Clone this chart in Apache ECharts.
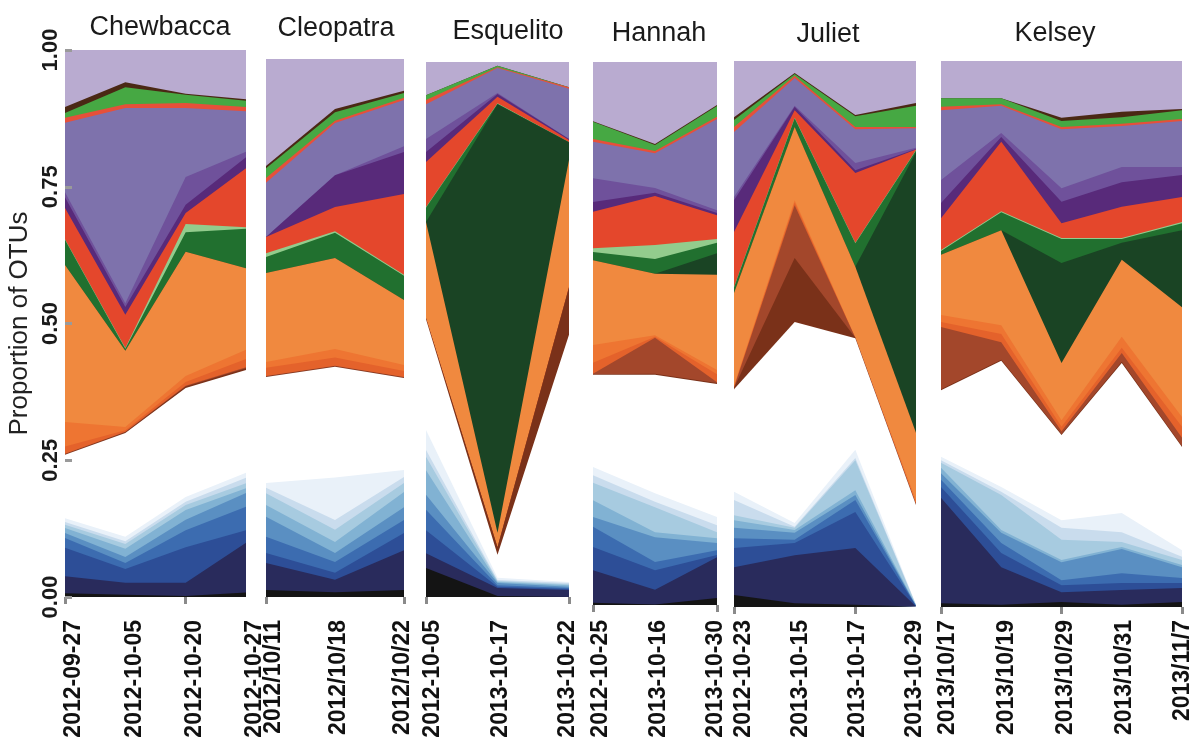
<!DOCTYPE html>
<html>
<head>
<meta charset="utf-8">
<script src="https://cdn.jsdelivr.net/npm/echarts@6/dist/echarts.min.js"></script>
<style>
  html, body { margin: 0; padding: 0; background: #fff; }
  #chart { width: 1197px; height: 751px; }
</style>
</head>
<body>
<div id="chart"></div>
<script>
// Sampling dates for each animal
const chewbaccaDates = ['2012-09-27', '2012-10-05', '2012-10-20', '2012-10-27'];
const cleopatraDates = ['2012/10/11', '2012/10/18', '2012/10/22'];
const esquelitoDates = ['2012-10-05', '2013-10-17', '2013-10-22'];
const hannahDates = ['2012-10-25', '2013-10-16', '2013-10-30'];
const julietDates = ['2012-10-23', '2013-10-15', '2013-10-17', '2013-10-29'];
const kelseyDates = ['2013/10/17', '2013/10/19', '2013/10/29', '2013/10/31', '2013/11/7'];

const yTicks = [0, 0.25, 0.5, 0.75, 1];

// OTU groups, bottom of the stack first
const layerNames = [
  'black', 'navy', 'blue', 'midBlue', 'steel', 'lightSteel', 'lightBlue', 'paleBlue', 'palestBlue',
  'unassigned', 'brownDark', 'brown', 'orangeDeep', 'orangeMid', 'orange',
  'greenDarkest', 'greenDark', 'greenLight', 'red', 'purpleDark', 'purple', 'lavender',
  'redLine', 'green', 'brownLine', 'lavenderTop'
];

// Cumulative proportion at the top edge of each group (same order as layerNames)
const chewbaccaTops = [
  [0.007, 0.004, 0.002, 0.008],
  [0.038, 0.026, 0.026, 0.099],
  [0.090, 0.051, 0.091, 0.122],
  [0.108, 0.062, 0.122, 0.165],
  [0.117, 0.073, 0.141, 0.190],
  [0.126, 0.088, 0.159, 0.199],
  [0.132, 0.097, 0.168, 0.208],
  [0.137, 0.102, 0.174, 0.218],
  [0.144, 0.110, 0.183, 0.227],
  [0.260, 0.300, 0.382, 0.415],
  [0.261, 0.301, 0.385, 0.418],
  [0.262, 0.302, 0.386, 0.420],
  [0.275, 0.305, 0.393, 0.435],
  [0.320, 0.311, 0.404, 0.452],
  [0.607, 0.450, 0.631, 0.601],
  [0.607, 0.450, 0.631, 0.601],
  [0.653, 0.454, 0.667, 0.673],
  [0.654, 0.455, 0.682, 0.676],
  [0.711, 0.516, 0.702, 0.784],
  [0.731, 0.530, 0.717, 0.804],
  [0.740, 0.537, 0.768, 0.814],
  [0.867, 0.894, 0.894, 0.888],
  [0.876, 0.901, 0.903, 0.896],
  [0.885, 0.932, 0.918, 0.907],
  [0.896, 0.941, 0.920, 0.910],
  [1, 1, 1, 1]
];

const cleopatraTops = [
  [0.013, 0.009, 0.013],
  [0.063, 0.032, 0.087],
  [0.082, 0.045, 0.119],
  [0.112, 0.065, 0.143],
  [0.149, 0.082, 0.167],
  [0.171, 0.102, 0.195],
  [0.193, 0.125, 0.212],
  [0.203, 0.143, 0.223],
  [0.212, 0.222, 0.236],
  [0.409, 0.428, 0.407],
  [0.410, 0.429, 0.408],
  [0.411, 0.430, 0.409],
  [0.426, 0.445, 0.420],
  [0.437, 0.461, 0.431],
  [0.602, 0.630, 0.552],
  [0.602, 0.630, 0.552],
  [0.632, 0.677, 0.597],
  [0.639, 0.680, 0.599],
  [0.669, 0.725, 0.749],
  [0.669, 0.784, 0.827],
  [0.669, 0.784, 0.838],
  [0.770, 0.881, 0.924],
  [0.779, 0.885, 0.928],
  [0.797, 0.901, 0.937],
  [0.801, 0.907, 0.941],
  [1, 1, 1]
];

const esquelitoTops = [
  [0.054, 0.002, 0.001],
  [0.082, 0.017, 0.013],
  [0.125, 0.019, 0.015],
  [0.163, 0.022, 0.017],
  [0.191, 0.026, 0.019],
  [0.237, 0.028, 0.022],
  [0.262, 0.030, 0.024],
  [0.275, 0.032, 0.026],
  [0.312, 0.036, 0.028],
  [0.519, 0.079, 0.490],
  [0.521, 0.093, 0.579],
  [0.521, 0.093, 0.579],
  [0.521, 0.093, 0.579],
  [0.521, 0.093, 0.579],
  [0.701, 0.120, 0.817],
  [0.701, 0.921, 0.850],
  [0.728, 0.922, 0.850],
  [0.729, 0.923, 0.850],
  [0.813, 0.935, 0.854],
  [0.832, 0.940, 0.856],
  [0.856, 0.942, 0.856],
  [0.921, 0.989, 0.950],
  [0.929, 0.990, 0.953],
  [0.938, 0.993, 0.953],
  [0.938, 0.993, 0.953],
  [1, 1, 1]
];

const hannahTops = [
  [0.004, 0.001, 0.013],
  [0.064, 0.028, 0.088],
  [0.107, 0.064, 0.092],
  [0.144, 0.079, 0.101],
  [0.162, 0.125, 0.114],
  [0.193, 0.134, 0.123],
  [0.225, 0.180, 0.134],
  [0.239, 0.190, 0.147],
  [0.254, 0.206, 0.162],
  [0.424, 0.424, 0.407],
  [0.425, 0.426, 0.409],
  [0.426, 0.492, 0.410],
  [0.446, 0.494, 0.425],
  [0.479, 0.497, 0.433],
  [0.635, 0.610, 0.608],
  [0.635, 0.610, 0.648],
  [0.650, 0.637, 0.667],
  [0.657, 0.663, 0.674],
  [0.724, 0.753, 0.718],
  [0.742, 0.759, 0.722],
  [0.786, 0.768, 0.727],
  [0.853, 0.832, 0.895],
  [0.858, 0.836, 0.899],
  [0.890, 0.847, 0.919],
  [0.891, 0.849, 0.921],
  [1, 1, 1]
];

const julietTops = [
  [0.022, 0.007, 0.004, 0.001],
  [0.073, 0.095, 0.108, 0.001],
  [0.108, 0.117, 0.174, 0.002],
  [0.126, 0.123, 0.196, 0.002],
  [0.145, 0.136, 0.205, 0.002],
  [0.159, 0.141, 0.214, 0.003],
  [0.168, 0.145, 0.269, 0.003],
  [0.196, 0.147, 0.273, 0.004],
  [0.211, 0.154, 0.288, 0.004],
  [0.399, 0.522, 0.492, 0.187],
  [0.401, 0.639, 0.493, 0.188],
  [0.402, 0.736, 0.493, 0.188],
  [0.403, 0.741, 0.493, 0.190],
  [0.405, 0.745, 0.493, 0.196],
  [0.575, 0.879, 0.623, 0.319],
  [0.575, 0.879, 0.623, 0.833],
  [0.585, 0.895, 0.666, 0.836],
  [0.586, 0.896, 0.667, 0.837],
  [0.687, 0.910, 0.795, 0.838],
  [0.745, 0.916, 0.800, 0.839],
  [0.751, 0.918, 0.813, 0.841],
  [0.870, 0.969, 0.875, 0.877],
  [0.879, 0.973, 0.879, 0.879],
  [0.892, 0.976, 0.899, 0.918],
  [0.897, 0.978, 0.901, 0.923],
  [1, 1, 1, 1]
];

const kelseyTops = [
  [0.007, 0.004, 0.009, 0.004, 0.009],
  [0.200, 0.073, 0.027, 0.031, 0.035],
  [0.220, 0.099, 0.040, 0.044, 0.044],
  [0.233, 0.117, 0.049, 0.062, 0.053],
  [0.245, 0.136, 0.082, 0.106, 0.073],
  [0.255, 0.141, 0.086, 0.110, 0.077],
  [0.264, 0.205, 0.123, 0.119, 0.086],
  [0.269, 0.211, 0.145, 0.137, 0.092],
  [0.275, 0.220, 0.159, 0.172, 0.104],
  [0.397, 0.451, 0.315, 0.447, 0.293],
  [0.399, 0.453, 0.317, 0.449, 0.295],
  [0.513, 0.485, 0.322, 0.465, 0.310],
  [0.522, 0.500, 0.330, 0.475, 0.330],
  [0.535, 0.516, 0.342, 0.495, 0.348],
  [0.645, 0.690, 0.447, 0.636, 0.549],
  [0.645, 0.690, 0.630, 0.667, 0.690],
  [0.652, 0.723, 0.674, 0.674, 0.703],
  [0.654, 0.725, 0.676, 0.676, 0.705],
  [0.712, 0.852, 0.703, 0.733, 0.751],
  [0.740, 0.861, 0.742, 0.778, 0.791],
  [0.782, 0.868, 0.767, 0.806, 0.806],
  [0.910, 0.918, 0.875, 0.881, 0.890],
  [0.916, 0.921, 0.879, 0.885, 0.894],
  [0.932, 0.932, 0.890, 0.897, 0.910],
  [0.932, 0.932, 0.896, 0.907, 0.912],
  [1, 1, 1, 1, 1]
];

// Fill colour per group (same order as layerNames)
const layerColors = [
  '#141414', '#292b5c', '#2d4e97', '#3c6cb0', '#5a8fc2', '#81b2d3', '#a7cbe0', '#c9dced', '#e9f1f9',
  '#ffffff', '#7a3119', '#a3472b', '#e4622b', '#ee7532', '#f0893f',
  '#1a4424', '#21702f', '#93cc8d', '#e4472c', '#582a7a', '#6f519b', '#7e72ac',
  '#e6503a', '#46a843', '#4a2814', '#b9abd0'
];

const FONT = 'Liberation Sans, Arial, sans-serif';

// Panel layout: plot box [left, top, width, height], title centre, tick offset,
// and the left/right inset of the date-label row relative to the plot box
const panels = [
  { name: 'Chewbacca', dates: chewbaccaDates, tops: chewbaccaTops, box: [65, 50, 181, 547], titleX: 155, titleY: 9, axisOffset: 14, labelInset: [9, -9] },
  { name: 'Cleopatra', dates: cleopatraDates, tops: cleopatraTops, box: [266, 59, 138, 538], titleX: 331, titleY: 10, axisOffset: 9, labelInset: [8, 1] },
  { name: 'Esquelito', dates: esquelitoDates, tops: esquelitoTops, box: [426, 62, 143, 535], titleX: 503, titleY: 13, axisOffset: 5, labelInset: [7, 1] },
  { name: 'Hannah', dates: hannahDates, tops: hannahTops, box: [593, 62, 124, 543], titleX: 654, titleY: 15, axisOffset: 5, labelInset: [8, 1] },
  { name: 'Juliet', dates: julietDates, tops: julietTops, box: [734, 61, 182, 546], titleX: 823, titleY: 16, axisOffset: 3, labelInset: [10, 1] },
  { name: 'Kelsey', dates: kelseyDates, tops: kelseyTops, box: [941, 61, 241, 546], titleX: 1050, titleY: 15, axisOffset: 3, labelInset: [7, -1] }
];

const LABEL_END_Y = 620;

const option = {
  animation: false,
  backgroundColor: '#ffffff',
  title: [],
  grid: [],
  xAxis: [],
  yAxis: [],
  series: []
};

const nPanels = panels.length;

panels.forEach((p, i) => {
  const [left, top, width, height] = p.box;

  option.title.push({
    text: p.name,
    left: p.titleX,
    top: p.titleY,
    textAlign: 'center',
    textStyle: { fontFamily: FONT, fontSize: 27, fontWeight: 'normal', color: '#1a1a1a' }
  });

  option.grid.push({ left: left, top: top, width: width, height: height, containLabel: false });

  // Plot axis: carries the tick marks at each sampling date
  option.xAxis.push({
    type: 'category',
    gridIndex: i,
    data: p.dates,
    boundaryGap: false,
    offset: p.axisOffset,
    axisLine: { show: false },
    axisTick: { show: true, length: 7, lineStyle: { color: '#8a8a8a', width: 3 } },
    axisLabel: { show: false },
    splitLine: { show: false }
  });

  const isFirst = i === 0;
  option.yAxis.push({
    type: 'value',
    gridIndex: i,
    min: yTicks[0],
    max: yTicks[yTicks.length - 1],
    interval: 0.25,
    show: isFirst,
    z: 10,
    name: isFirst ? 'Proportion of OTUs' : '',
    nameLocation: 'middle',
    nameGap: 32,
    nameTextStyle: { fontFamily: FONT, fontSize: 26, color: '#222' },
    axisLine: { show: false },
    axisTick: { show: true, inside: true, length: 7, lineStyle: { color: '#9a9a9a', width: 3 } },
    axisLabel: {
      rotate: 90,
      margin: 3,
      fontFamily: FONT,
      fontSize: 22,
      fontWeight: 'bold',
      color: '#1a1a1a',
      formatter: v => v.toFixed(2)
    },
    splitLine: { show: false }
  });

  // Paint from the outermost group inwards so each lower group covers the one above it
  for (let k = layerNames.length - 1; k >= 0; k--) {
    option.series.push({
      name: layerNames[k],
      type: 'line',
      xAxisIndex: i,
      yAxisIndex: i,
      data: p.tops[k],
      symbol: 'none',
      silent: true,
      lineStyle: { width: 0 },
      areaStyle: { color: layerColors[k], opacity: 1, origin: 'start' }
    });
  }
});

// Date-label rows, one per panel, slightly inset from the plot edges
panels.forEach((p, i) => {
  const [left, top, width, height] = p.box;
  const [inL, inR] = p.labelInset;
  const gi = nPanels + i;
  const axisY = top + height;
  option.grid.push({ left: left + inL, top: top, width: width - inL - inR, height: height, containLabel: false });
  option.xAxis.push({
    type: 'category',
    gridIndex: gi,
    data: p.dates,
    boundaryGap: false,
    axisLine: { show: false },
    axisTick: { show: false },
    splitLine: { show: false },
    axisLabel: {
      rotate: 90,
      interval: 0,
      margin: LABEL_END_Y - axisY,
      fontFamily: FONT,
      fontSize: 23,
      fontWeight: 'bold',
      color: '#111'
    }
  });
  option.yAxis.push({ type: 'value', gridIndex: gi, min: 0, max: 1, show: false });
});

const chart = echarts.init(document.getElementById('chart'), null, { renderer: 'canvas' });
chart.setOption(option);
</script>
</body>
</html>
